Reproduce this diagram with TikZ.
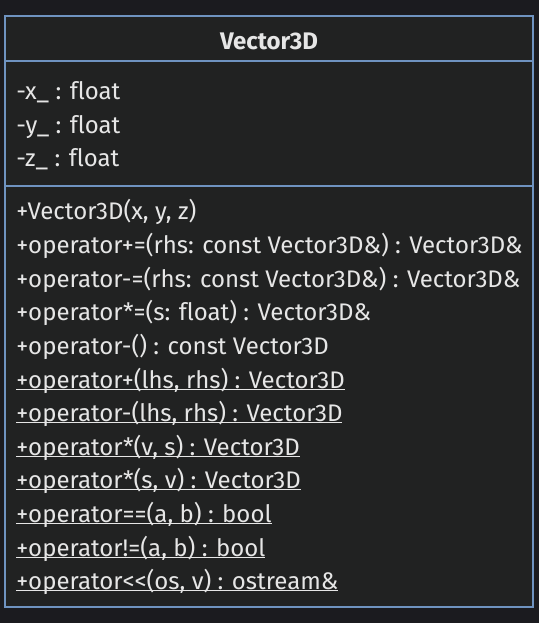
\documentclass[tikz,border=0pt]{standalone}
\usepackage{fontspec}
\setmainfont[Ligatures=NoCommon]{Fira Sans}
\usepackage{xcolor}
\usetikzlibrary{positioning}
\definecolor{bgdark}{HTML}{1B1B1F}
\definecolor{boxfill}{HTML}{212222}
\definecolor{boxline}{HTML}{6F93C0}
\definecolor{txt}{HTML}{E6E6E6}

\begin{document}
\begin{tikzpicture}[x=0.75pt, y=-0.75pt, font=\fontsize{18}{21}\selectfont,
  member/.style={anchor=base west, inner sep=0pt, text=txt},
  ulmember/.style={member, execute at begin node={\setbox0\hbox\bgroup}, execute at end node={\egroup\rlap{\rule[-1.8pt]{\wd0}{0.8pt}}\box0}}]
  % canvas
  \fill[bgdark] (0,0) rectangle (539,623);
  \useasboundingbox (0,0) rectangle (539,623);
  % class box
  \draw[boxline, fill=boxfill, line width=1pt] (5,16) rectangle (533,607);
  \draw[boxline, line width=1pt] (5,61) -- (533,61);
  \draw[boxline, line width=1pt] (5,186) -- (533,186);
  \node[text=txt, font=\fontsize{18}{21}\selectfont\bfseries] (title) at (269,41) {Vector3D};
  % attributes
  \node[member] (ax) at (16,100) {-x\_ : float};
  \node[member] (ay) at (16,134) {-y\_ : float};
  \node[member] (az) at (16,167) {-z\_ : float};
  % operations
  \node[member] (m1) at (16,220) {+Vector3D(x, y, z)};
  \node[member] (m2) at (16,253) {+operator+=(rhs: const Vector3D\&) : Vector3D\&};
  \node[member] (m3) at (16,287) {+operator-=(rhs: const Vector3D\&) : Vector3D\&};
  \node[member] (m4) at (16,320) {+operator*=(s: float) : Vector3D\&};
  \node[member] (m5) at (16,354) {+operator-() : const Vector3D};
  \node[ulmember] (m6) at (16,388) {+operator+(lhs, rhs) : Vector3D};
  \node[ulmember] (m7) at (16,421) {+operator-(lhs, rhs) : Vector3D};
  \node[ulmember] (m8) at (16,455) {+operator*(v, s) : Vector3D};
  \node[ulmember] (m9) at (16,488) {+operator*(s, v) : Vector3D};
  \node[ulmember] (m10) at (16,522) {+operator==(a, b) : bool};
  \node[ulmember] (m11) at (16,556) {+operator!=(a, b) : bool};
  \node[ulmember] (m12) at (16,589) {+operator{<}{<}(os, v) : ostream\&};
\end{tikzpicture}
\end{document}
